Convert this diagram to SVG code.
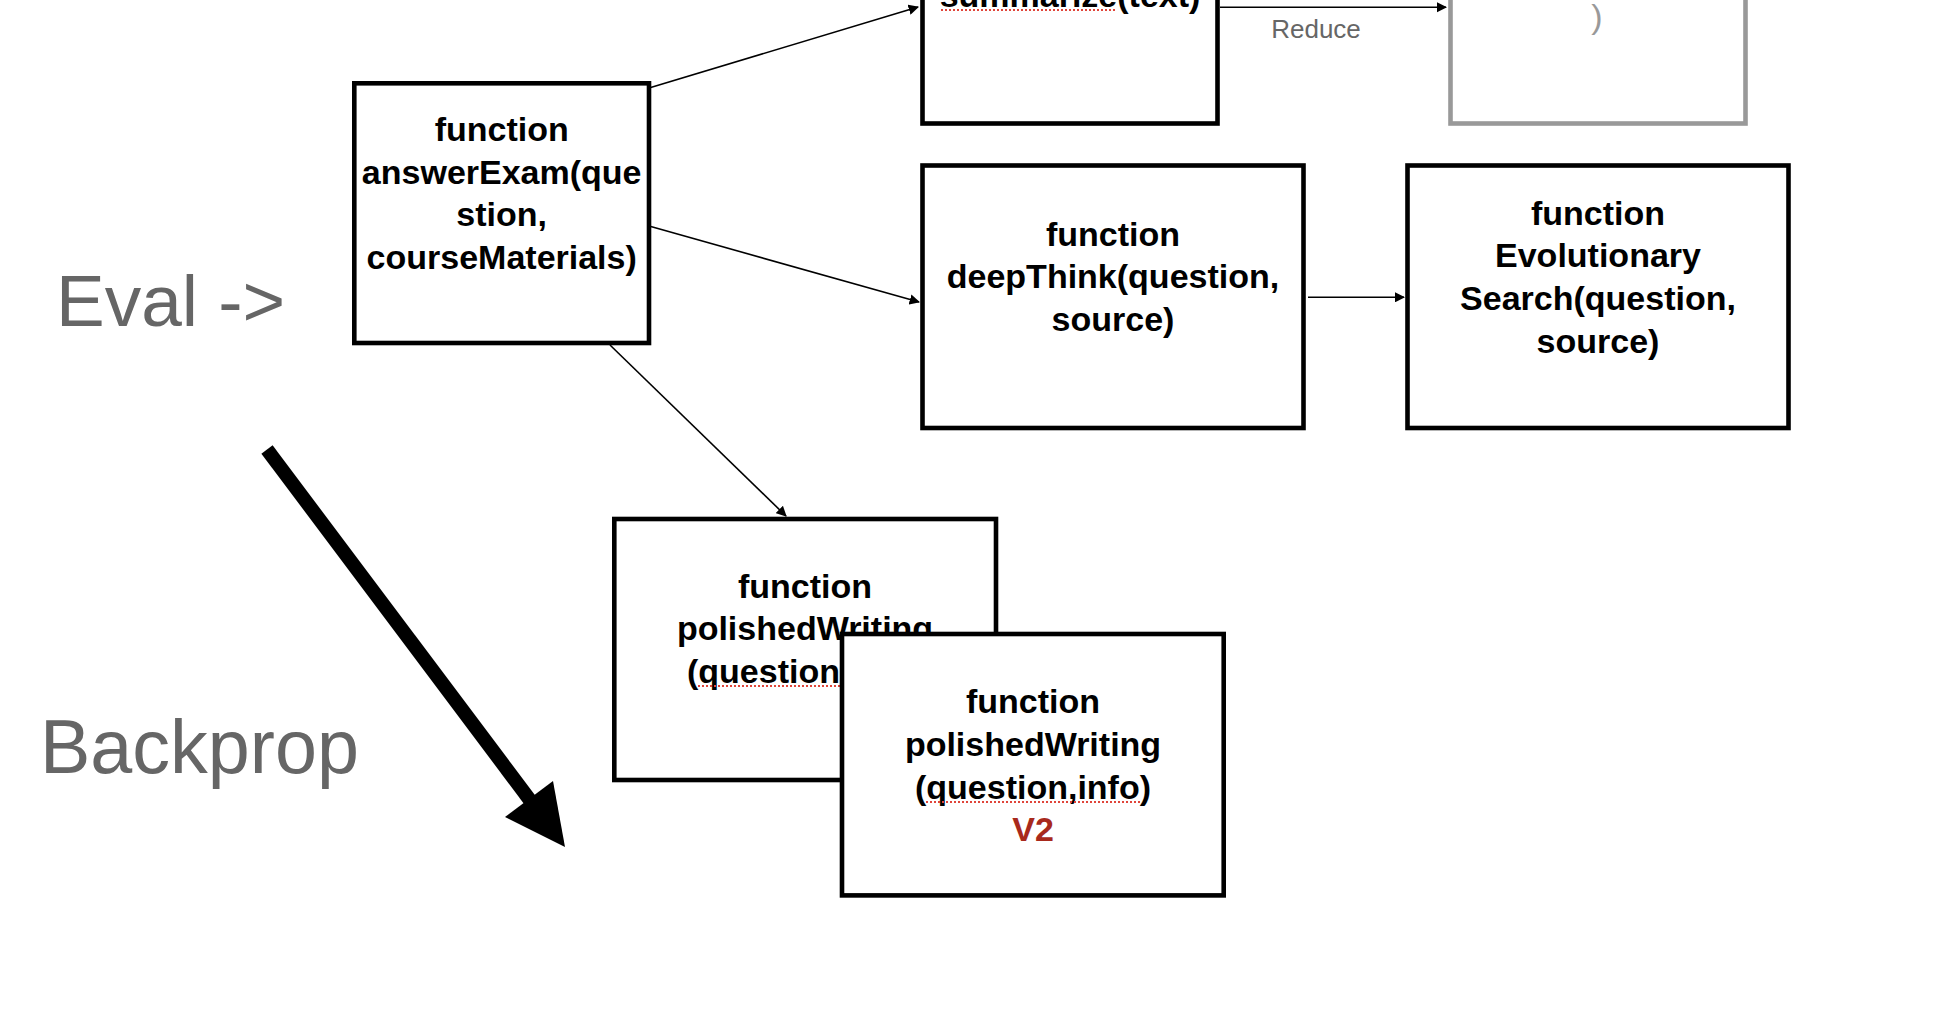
<svg xmlns="http://www.w3.org/2000/svg" width="1950" height="1012" viewBox="0 0 1950 1012">
<defs>
<style>
.box{fill:#fff;stroke:#000;stroke-width:4.6}
.gbox{fill:#fff;stroke:#999;stroke-width:4.6}
.t{font-family:"Liberation Sans",Arial,sans-serif;font-weight:bold;font-size:34px;fill:#000;text-anchor:middle}
.g{font-family:"Liberation Sans",Arial,sans-serif;fill:#666}
.edge{stroke:#000;stroke-width:1.6;fill:none;marker-end:url(#ah)}
.sp{stroke:#e0453a;stroke-width:2;stroke-dasharray:2 2;fill:none}
</style>
<marker id="ah" viewBox="0 0 10 10" refX="9" refY="5" markerWidth="6.5" markerHeight="6.5" orient="auto" markerUnits="strokeWidth">
<path d="M0,0 L10,5 L0,10 z" fill="#000"/>
</marker>
</defs>
<rect width="1950" height="1012" fill="#fff"/>

<g id="connectors">
<line class="edge" x1="649" y1="88" x2="918" y2="7"/>
<line class="edge" x1="1220" y1="7.3" x2="1446" y2="7.3"/>
<line class="edge" x1="649" y1="226" x2="919" y2="302"/>
<line class="edge" x1="1308" y1="297.3" x2="1404" y2="297.3"/>
<line class="edge" x1="610" y1="345" x2="786" y2="516"/>
</g>

<g id="summarize">
<rect class="box" x="922.5" y="-140" width="295" height="263.5"/>
<text class="t" x="1070" y="7">summarize(text)</text>
<line class="sp" x1="941" y1="10" x2="1116" y2="10"/>
</g>

<g id="reduce-target">
<rect class="gbox" x="1450.5" y="-140" width="295" height="263.5"/>
<text class="t" x="1597" y="28" style="fill:#999;font-weight:normal">)</text>
</g>

<text id="reduce-label" class="g" x="1316" y="38" font-size="26" text-anchor="middle">Reduce</text>

<g id="answerExam">
<rect class="box" x="354.3" y="83.3" width="294.7" height="259.7"/>
<text class="t" x="501.7" y="141">function</text>
<text class="t" x="501.7" y="184">answerExam(que</text>
<text class="t" x="501.7" y="226">stion,</text>
<text class="t" x="501.7" y="269">courseMaterials)</text>
</g>

<g id="deepThink">
<rect class="box" x="922.5" y="165.5" width="381" height="262.5"/>
<text class="t" x="1113" y="246">function</text>
<text class="t" x="1113" y="288">deepThink(question,</text>
<text class="t" x="1113" y="331">source)</text>
</g>

<g id="evolutionary">
<rect class="box" x="1407.5" y="165.5" width="381" height="262.5"/>
<text class="t" x="1598" y="225">function</text>
<text class="t" x="1598" y="267">Evolutionary</text>
<text class="t" x="1598" y="310">Search(question,</text>
<text class="t" x="1598" y="353">source)</text>
</g>

<g id="polishedWriting">
<rect class="box" x="614.3" y="519" width="381.7" height="261"/>
<text class="t" x="805" y="598">function</text>
<text class="t" x="805" y="640">polishedWriting</text>
<text class="t" x="805" y="683">(question,info)</text>
<line class="sp" x1="698" y1="686" x2="840" y2="686"/>
</g>

<g id="polishedWritingV2">
<rect class="box" x="842" y="634" width="381.7" height="261.4"/>
<text class="t" x="1033" y="713">function</text>
<text class="t" x="1033" y="756">polishedWriting</text>
<text class="t" x="1033" y="799">(question,info)</text>
<line class="sp" x1="926" y1="802" x2="1140" y2="802"/>
<text class="t" x="1033" y="841" style="fill:#a8291c">V2</text>
</g>

<text id="eval-label" class="g" x="56" y="326" font-size="73">Eval -&gt;</text>
<text id="backprop-label" class="g" x="40" y="773" font-size="75.5">Backprop</text>

<g id="backprop-arrow">
<line x1="267" y1="449.5" x2="531" y2="801.5" stroke="#000" stroke-width="14"/>
<polygon points="505,817 553,781 565,847" fill="#000"/>
</g>
</svg>
